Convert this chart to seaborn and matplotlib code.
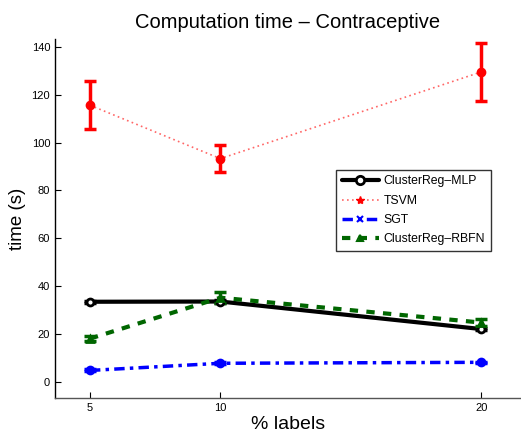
import matplotlib
matplotlib.use("Agg")
import matplotlib.pyplot as plt
import seaborn as sns
import pandas as pd
import numpy as np

labels_pct = [5, 10, 20]
mlp = [33.5, 33.6, 22.1]
mlp_err = [0.5, 0.6, 0.6]
tsvm = [115.6, 93.3, 129.5]
tsvm_err = [10.0, 5.7, 12.1]
sgt = [4.8, 7.8, 8.2]
sgt_err = [0.4, 0.4, 0.3]
rbfn = [18.1, 35.2, 24.8]
rbfn_err = [1.0, 2.2, 1.5]

series_names = ["ClusterReg\u2013MLP", "TSVM", "SGT", "ClusterReg\u2013RBFN"]

sns.set_style("white")
plt.rcParams['font.family'] = ['Liberation Sans', 'DejaVu Sans']
plt.rcParams['text.color'] = 'black'
plt.rcParams['axes.labelcolor'] = 'black'

fig = plt.figure(figsize=(5.21, 4.40), dpi=100)
ax = fig.add_axes([0.1056, 0.0955, 0.893, 0.816])

df = pd.DataFrame({
    "x": labels_pct * 4,
    "y": mlp + tsvm + sgt + rbfn,
    "err": mlp_err + tsvm_err + sgt_err + rbfn_err,
    "series": sum([[n] * 3 for n in series_names], []),
})

styles = {
    series_names[0]: dict(color="black", ls="-", lw=3, marker="o", mfc="white", mec="black", ms=6, mew=2),
    series_names[1]: dict(color="#ff6666", ls=(0, (1, 2)), lw=1.2, marker="*", mfc="red", mec="red", ms=6, mew=1),
    series_names[2]: dict(color="blue", ls=(0, (3, 1.5, 1, 1.5)), lw=2.5, marker="x", mfc="blue", mec="blue", ms=5, mew=1.5),
    series_names[3]: dict(color="#006600", ls=(0, (2, 2)), lw=3, marker="^", mfc="none", mec="#006600", ms=5, mew=1.5),
}
errcol = {series_names[0]: "black", series_names[1]: "red", series_names[2]: "blue", series_names[3]: "#006600"}
markers = {series_names[0]: "o", series_names[1]: "o", series_names[2]: "o", series_names[3]: "^"}

handles = []
for name in series_names:
    sub = df[df.series == name]
    st = styles[name]
    sns.lineplot(data=sub, x="x", y="y", ax=ax, color=st["color"], linestyle=st["ls"],
                 lw=st["lw"], legend=False, errorbar=None)
    ax.errorbar(sub.x, sub.y, yerr=sub.err, fmt="none", ecolor=errcol[name],
                elinewidth=2.5, capsize=4, capthick=2.5, zorder=3)
    ax.plot(sub.x, sub.y, ls="none", marker=markers[name], ms=5,
            mfc="white" if name == series_names[0] else errcol[name],
            mec=errcol[name], mew=2, zorder=4)
    h, = ax.plot([], [], color=st["color"], ls=st["ls"], lw=st["lw"], marker=st["marker"],
                 mfc=st["mfc"], mec=st["mec"], ms=st["ms"], mew=st["mew"])
    handles.append(h)

ax.set_xlim(3.66, 21.5)
ax.set_ylim(-6.7, 143.3)
ax.set_xticks(labels_pct)
ax.set_yticks(np.arange(0, 141, 20))
ax.tick_params(direction="in", length=4, width=0.8, labelsize=8, colors="black", left=True, bottom=True)
for s in ["top", "right"]:
    ax.spines[s].set_visible(False)
ax.spines["left"].set_color("black")
ax.spines["bottom"].set_color("#555555")
ax.spines["left"].set_linewidth(1)
ax.spines["bottom"].set_linewidth(1)

ax.set_title("Computation time \u2013 Contraceptive", fontsize=14.5, pad=8, color="black")
ax.set_xlabel("% labels", fontsize=14, labelpad=2)
ax.set_ylabel("time (s)", fontsize=13.5, labelpad=4)

leg = ax.legend(handles, series_names, loc="upper left", bbox_to_anchor=(0.605, 0.635),
                fontsize=8.8, frameon=True, fancybox=False, handlelength=3, borderaxespad=0,
                labelspacing=0.6, handletextpad=0.4, borderpad=0.45)
leg.get_frame().set_edgecolor("black")
leg.get_frame().set_linewidth(1)

fig.savefig("out.png", dpi=100)
